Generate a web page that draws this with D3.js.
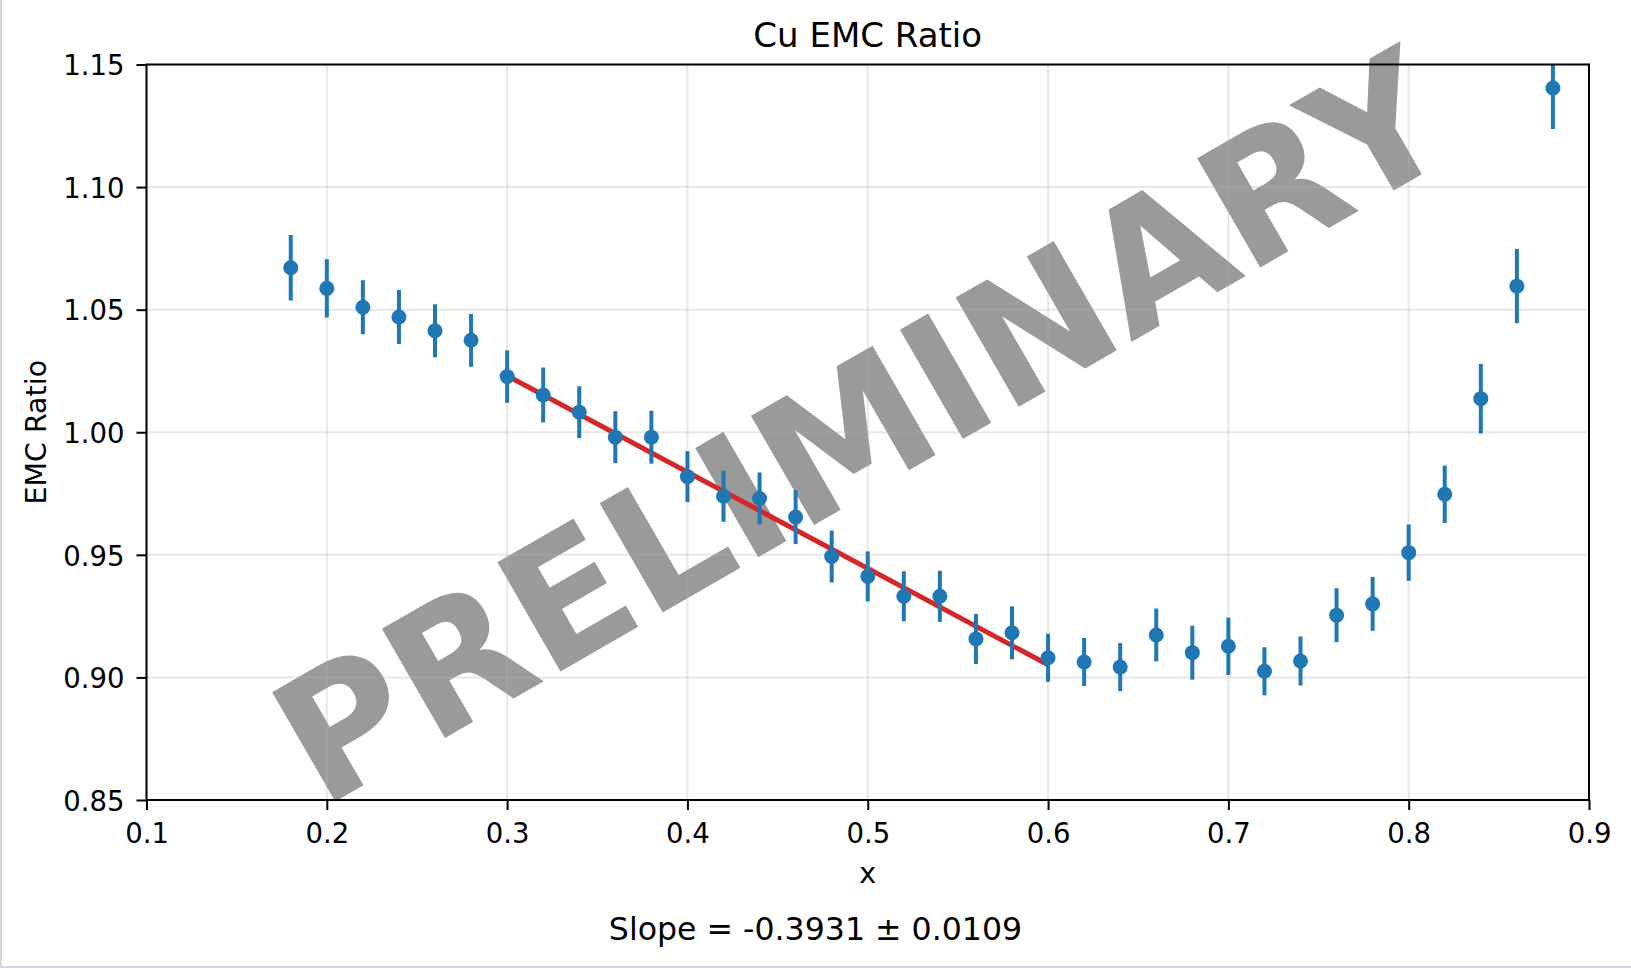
<!DOCTYPE html>
<html>
<head>
<meta charset="utf-8">
<script src="https://cdn.jsdelivr.net/npm/d3@7"></script>
<style>
  html, body { margin: 0; padding: 0; background: #fff; }
  svg { display: block; }
  text { font-family: "DejaVu Sans", sans-serif; }
</style>
</head>
<body>
<div id="chart"></div>
<script>
// ---- data ----
const xValues = [0.18,0.20,0.22,0.24,0.26,0.28,0.30,0.32,0.34,0.36,0.38,0.40,0.42,0.44,0.46,0.48,0.50,0.52,0.54,0.56,0.58,0.60,0.62,0.64,0.66,0.68,0.70,0.72,0.74,0.76,0.78,0.80,0.82,0.84,0.86,0.88];
const ratioValues = [1.0671,1.0587,1.0510,1.0470,1.0414,1.0375,1.0227,1.0152,1.0082,0.9980,0.9980,0.9819,0.9739,0.9730,0.9654,0.9493,0.9412,0.9331,0.9331,0.9157,0.9182,0.9080,0.9063,0.9042,0.9173,0.9101,0.9127,0.9025,0.9067,0.9254,0.9300,0.9509,0.9747,1.0137,1.0596,1.1404];
const errorValues = [0.0134,0.0119,0.0110,0.0110,0.0108,0.0108,0.0107,0.0112,0.0106,0.0106,0.0108,0.0104,0.0104,0.0106,0.0110,0.0106,0.0102,0.0102,0.0104,0.0102,0.0108,0.0098,0.0098,0.0098,0.0108,0.0110,0.0117,0.0098,0.0100,0.0110,0.0110,0.0115,0.0117,0.0142,0.0151,0.0167];
const fitRange = [0.30, 0.60];
const fitSlope = -0.3931;
const fitSlopeErr = 0.0109;
const fitIntercept = 1.1410;
const xTicks = [0.1,0.2,0.3,0.4,0.5,0.6,0.7,0.8,0.9];
const yTicks = [0.85,0.90,0.95,1.00,1.05,1.10,1.15];
const titleText = "Cu EMC Ratio";
const xLabel = "x";
const yLabel = "EMC Ratio";
const watermark = "PRELIMINARY";

// ---- layout ----
const W = 1631, H = 968;
const L = 146.5, R = 1589, T = 64.5, B = 800;
const blue = "#1f77b4", red = "#d62728";

const svg = d3.select("#chart").append("svg").attr("width", W).attr("height", H);
svg.append("rect").attr("width", W).attr("height", H).attr("fill", "#fff");

const x = d3.scaleLinear().domain([0.1, 0.9]).range([L, R]);
const y = d3.scaleLinear().domain([0.85, 1.15]).range([B, T]);

// watermark (below grid)
svg.append("text")
  .attr("transform", `translate(${(L + R) / 2 + 24},${(T + B) / 2 + 48}) rotate(-30)`)
  .attr("text-anchor", "middle")
  .attr("font-size", 173)
  .attr("font-weight", "bold")
  .attr("fill", "#9a9a9a")
  .text(watermark);

// grid
const grid = svg.append("g");
grid.selectAll("line.gx").data(xTicks).join("line")
  .attr("x1", d => x(d)).attr("x2", d => x(d)).attr("y1", T).attr("y2", B)
  .attr("stroke", "#b0b0b0").attr("stroke-opacity", 0.3).attr("stroke-width", 2);
grid.selectAll("line.gy").data(yTicks).join("line")
  .attr("y1", d => y(d)).attr("y2", d => y(d)).attr("x1", L).attr("x2", R)
  .attr("stroke", "#b0b0b0").attr("stroke-opacity", 0.3).attr("stroke-width", 2);

// clip
svg.append("clipPath").attr("id", "clip").append("rect")
  .attr("x", L).attr("y", T).attr("width", R - L).attr("height", B - T);
const plot = svg.append("g").attr("clip-path", "url(#clip)");

// fit line
const fitPts = fitRange.map(v => [v, fitIntercept + fitSlope * v]);
plot.append("path")
  .attr("d", d3.line().x(d => x(d[0])).y(d => y(d[1]))(fitPts))
  .attr("stroke", red).attr("stroke-width", 5).attr("fill", "none");

const data = xValues.map((v, i) => ({ x: v, y: ratioValues[i], e: errorValues[i] }));
plot.selectAll("line.err").data(data).join("line")
  .attr("x1", d => x(d.x)).attr("x2", d => x(d.x))
  .attr("y1", d => y(d.y - d.e)).attr("y2", d => y(d.y + d.e))
  .attr("stroke", blue).attr("stroke-width", 4);
plot.selectAll("circle").data(data).join("circle")
  .attr("cx", d => x(d.x)).attr("cy", d => y(d.y)).attr("r", 7.5)
  .attr("fill", blue);

// axes
const xAxis = svg.append("g").attr("transform", `translate(0,${B})`)
  .call(d3.axisBottom(x).tickValues(xTicks).tickFormat(d3.format(".1f")).tickSize(10).tickPadding(13).tickSizeOuter(0));
const yAxis = svg.append("g").attr("transform", `translate(${L},0)`)
  .call(d3.axisLeft(y).tickValues(yTicks).tickFormat(d3.format(".2f")).tickSize(10).tickPadding(12).tickSizeOuter(0));
[xAxis, yAxis].forEach(g => {
  g.select(".domain").remove();
  g.selectAll(".tick line").attr("stroke", "#000").attr("stroke-width", 2);
  g.selectAll(".tick text").attr("fill", "#000").attr("font-size", 27.5)
    .attr("font-family", "DejaVu Sans, sans-serif");
});
yAxis.selectAll(".tick text").attr("dy", "0.37em");

// spines
svg.append("rect").attr("x", L).attr("y", T).attr("width", R - L).attr("height", B - T)
  .attr("fill", "none").attr("stroke", "#000").attr("stroke-width", 2);

// texts
svg.append("text").attr("x", (L + R) / 2).attr("y", 46.5).attr("text-anchor", "middle")
  .attr("font-size", 34).text(titleText);
svg.append("text").attr("x", (L + R) / 2).attr("y", 883).attr("text-anchor", "middle")
  .attr("font-size", 28.5).text(xLabel);
svg.append("text").attr("transform", `translate(46,${(T + B) / 2}) rotate(-90)`)
  .attr("text-anchor", "middle").attr("font-size", 28.5).text(yLabel);
svg.append("text").attr("x", W / 2).attr("y", 940).attr("text-anchor", "middle")
  .attr("font-size", 31.6)
  .text(`Slope = ${fitSlope.toFixed(4)} \u00b1 ${fitSlopeErr.toFixed(4)}`);

// frame edges of the screenshot
svg.append("line").attr("x1", 1).attr("x2", 1).attr("y1", 0).attr("y2", H)
  .attr("stroke", "#cfd6dd").attr("stroke-width", 2);
svg.append("line").attr("x1", 0).attr("x2", W).attr("y1", 967).attr("y2", 967)
  .attr("stroke", "#cfd6dd").attr("stroke-width", 2);
</script>
</body>
</html>
